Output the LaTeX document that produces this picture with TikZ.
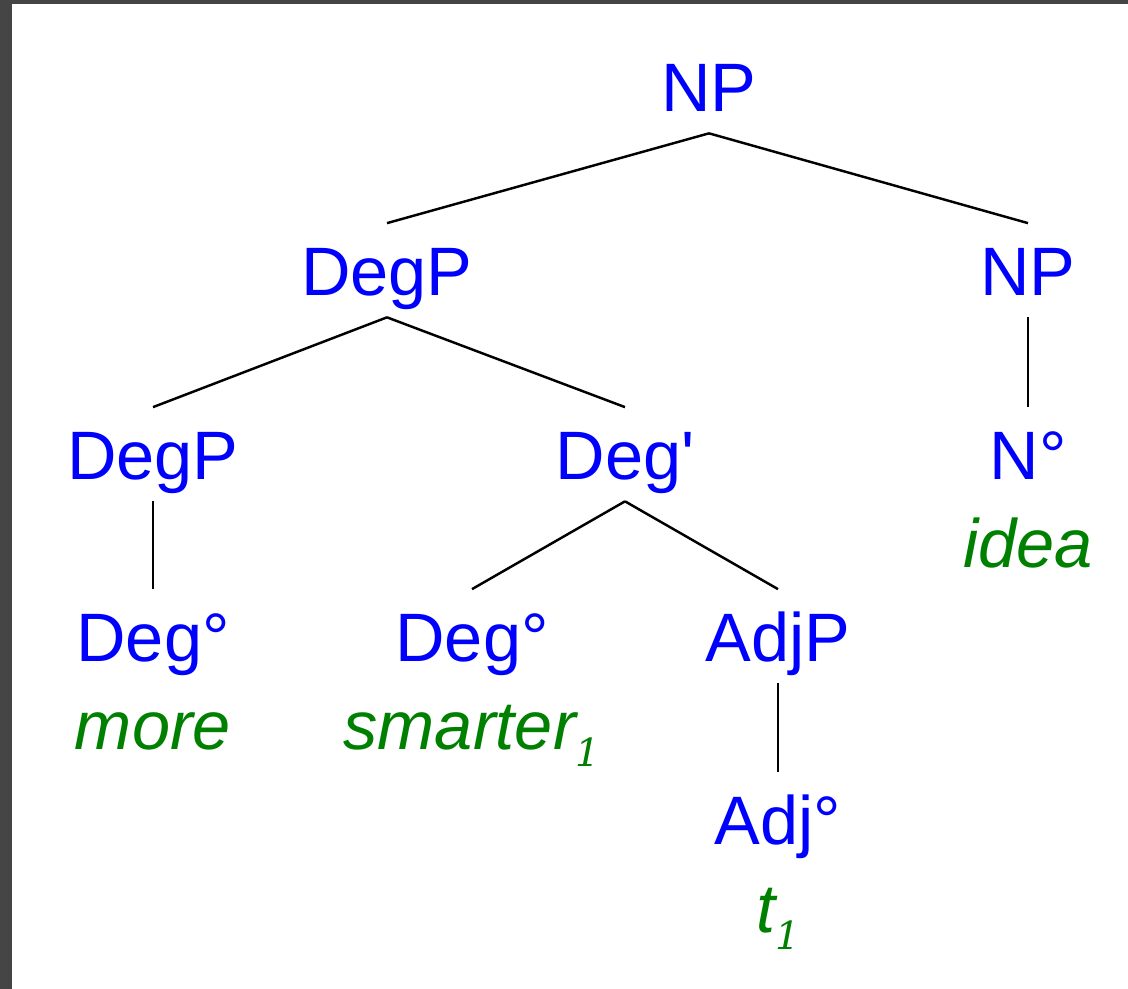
\documentclass[tikz,border=0pt]{standalone}
\usepackage{fontspec}
\newfontfamily\treefont{Liberation Sans}
\newfontfamily\indexfont{DejaVu Serif}
\definecolor{catblue}{RGB}{0,0,255}
\definecolor{wordgreen}{RGB}{0,128,0}
\newcommand{\idx}[1]{\raisebox{-0.34cm}{\indexfont\fontsize{22}{26}\selectfont\itshape #1}}
\begin{document}
\begin{tikzpicture}
      % Define styles for nodes
      \tikzstyle{cat} = [anchor=base, inner sep=0pt, text=catblue,
      text height=1.45cm, text depth=0.42cm,
      font=\treefont\fontsize{39}{46}\selectfont]
      \tikzstyle{word} = [anchor=base, inner sep=0pt, text=wordgreen,
      font=\treefont\itshape\fontsize{39}{46}\selectfont]
      \tikzstyle{branch} = [line width=1.4pt, black]

      % Background and page
      \fill[black!73] (0,0) rectangle (22.56,19.78);
      \fill[white] (0.24,0) rectangle (22.56,19.70);
      \useasboundingbox (0,0) rectangle (22.56,19.78);

      % Categories
      \node[cat] (np) at (14.18,17.54) {NP};
      \node[cat] (degp) at (7.74,13.86) {DegP};
      \node[cat] (npr) at (20.56,13.86) {NP};
      \node[cat] (degpl) at (3.06,10.18) {DegP};
      \node[cat] (degbar) at (12.5,10.18) {Deg'};
      \node[cat] (nhead) at (20.56,10.18) {N°};
      \node[cat] (deghl) at (3.06,6.54) {Deg°};
      \node[cat] (deghm) at (9.44,6.54) {Deg°};
      \node[cat] (adjp) at (15.56,6.54) {AdjP};
      \node[cat] (adjh) at (15.56,2.88) {Adj°};

      % Words
      \node[word] (idea) at (20.56,8.42) {idea};
      \node[word] (more) at (3.06,4.78) {more};
      \node[word] (smarter) at (9.44,4.78) {smarter\idx{1}};
      \node[word] (trace) at (15.56,1.12) {t\idx{1}};

      % Branches
      \draw[branch] (np.south) -- (degp.north);
      \draw[branch] (np.south) -- (npr.north);
      \draw[branch] (degp.south) -- (degpl.north);
      \draw[branch] (degp.south) -- (degbar.north);
      \draw[branch] (npr.south) -- (nhead.north);
      \draw[branch] (degpl.south) -- (deghl.north);
      \draw[branch] (degbar.south) -- (deghm.north);
      \draw[branch] (degbar.south) -- (adjp.north);
      \draw[branch] (adjp.south) -- (adjh.north);
\end{tikzpicture}
\end{document}
